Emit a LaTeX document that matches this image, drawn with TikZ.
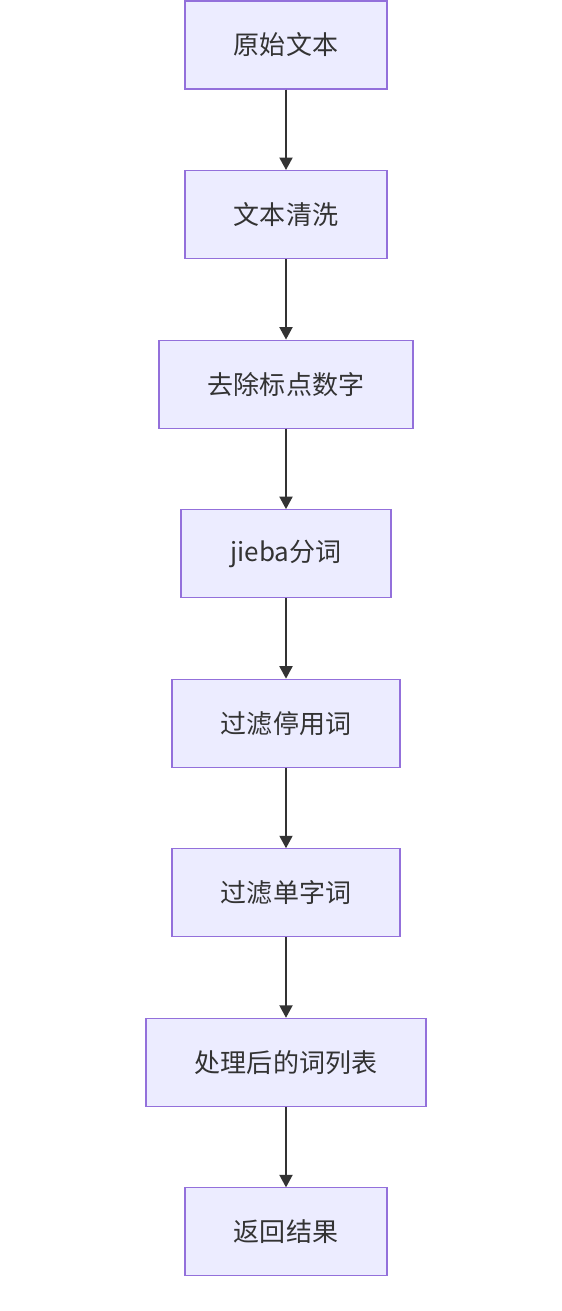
\documentclass[tikz,border=0pt]{standalone}
\usepackage{fontspec}
\setmainfont{Noto Sans CJK SC}
\usepackage{xcolor}
\usepackage{tikz}
\usetikzlibrary{arrows.meta,positioning}
\definecolor{boxFill}{HTML}{ECECFF}
\definecolor{boxEdge}{HTML}{9370DB}
\definecolor{lineCol}{HTML}{333333}
\tikzset{
  stepbox/.style={draw=boxEdge, fill=boxFill, line width=0.6pt, minimum height=1.76cm,
                  minimum width=#1, text=lineCol, font=\fontsize{14.8}{17}\selectfont},
  flow/.style={-{Triangle[length=0.25cm,width=0.26cm]}, draw=lineCol, fill=lineCol, line width=1.1pt},
}
\begin{document}
\begin{tikzpicture}[node distance=1.61cm]
  \useasboundingbox (0,0) rectangle (11.24,-26.22);
  \node[stepbox=4.04cm] (raw) at (5.72,-0.9) {原始文本};
  \node[stepbox=4.04cm, below=of raw] (clean) {文本清洗};
  \node[stepbox=5.08cm, below=of clean] (strip) {去除标点数字};
  \node[stepbox=4.2cm, below=of strip] (cut) {jieba分词};
  \node[stepbox=4.56cm, below=of cut] (stop) {过滤停用词};
  \node[stepbox=4.56cm, below=of stop] (single) {过滤单字词};
  \node[stepbox=5.6cm, below=of single] (words) {处理后的词列表};
  \node[stepbox=4.04cm, below=of words] (ret) {返回结果};

  \foreach \a/\b in {raw/clean,clean/strip,strip/cut,cut/stop,stop/single,single/words,words/ret}
    \draw[flow] (\a) -- (\b);
\end{tikzpicture}
\end{document}
